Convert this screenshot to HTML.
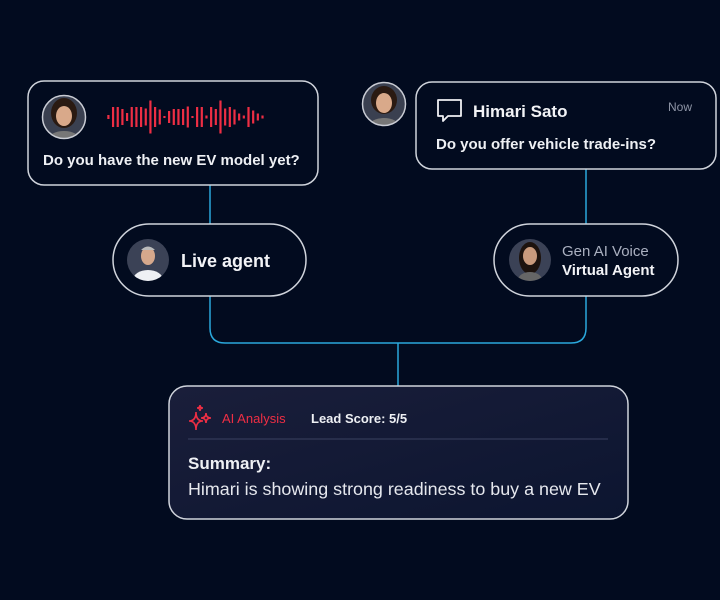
<!DOCTYPE html>
<html><head><meta charset="utf-8"><style>
html,body{margin:0;padding:0;background:#020b1f;}
body{width:720px;height:600px;overflow:hidden;position:relative;font-family:"Liberation Sans",sans-serif;}
svg{position:absolute;left:0;top:0;}
</style></head><body>
<svg width="720" height="600" viewBox="0 0 720 600" xmlns="http://www.w3.org/2000/svg">
<defs>
<linearGradient id="g3" x1="0" y1="0" x2="1" y2="1">
<stop offset="0" stop-color="#1a1e3a"/><stop offset="1" stop-color="#0c1530"/></linearGradient>
<clipPath id="c1"><circle cx="64" cy="117" r="21"/></clipPath>
<clipPath id="c2"><circle cx="148" cy="260" r="21"/></clipPath>
<clipPath id="c3"><circle cx="384" cy="104" r="21"/></clipPath>
<clipPath id="c4"><circle cx="530" cy="260" r="21"/></clipPath>
</defs>
<rect width="720" height="600" fill="#020b1f"/>
<g stroke="#2aa8dc" stroke-width="1.5" fill="none">
<line x1="210" y1="185" x2="210" y2="224"/>
<line x1="586" y1="169" x2="586" y2="224"/>
<path d="M210 296 V328 Q210 343 225 343 H571 Q586 343 586 328 V296"/>
<line x1="398" y1="343" x2="398" y2="386"/>
</g>
<rect x="28" y="81" width="290" height="104" rx="16" fill="#020b1f" stroke="#d0d4dc" stroke-width="1.5"/>
<g clip-path="url(#c1)"><rect x="40" y="94" width="48" height="48" fill="#3a4050"/>
<ellipse cx="64" cy="113" rx="13" ry="15" fill="#2a1a12"/><ellipse cx="64" cy="116" rx="8" ry="10" fill="#d9a98a"/><ellipse cx="64" cy="140" rx="16" ry="9" fill="#777"/></g>
<circle cx="64" cy="117" r="21.5" fill="none" stroke="#c9ccd4" stroke-width="1.5"/>
<g fill="#ee2e44" id="wave"></g>
<text x="43" y="165" font-size="15" font-weight="bold" fill="#eef0f4">Do you have the new EV model yet?</text>
<rect x="113" y="224" width="193" height="72" rx="36" fill="#020b1f" stroke="#d0d4dc" stroke-width="1.5"/>
<g clip-path="url(#c2)"><rect x="126" y="238" width="44" height="44" fill="#3b4256"/>
<ellipse cx="148" cy="256" rx="7" ry="9" fill="#d6a88c"/><path d="M141 250 Q148 243 155 250" fill="#bbb"/><ellipse cx="148" cy="280" rx="15" ry="10" fill="#eef0f4"/></g>
<text x="181" y="267" font-size="18" font-weight="bold" fill="#f2f3f6">Live agent</text>
<g clip-path="url(#c3)"><rect x="362" y="82" width="44" height="44" fill="#3a4050"/>
<ellipse cx="384" cy="100" rx="13" ry="14" fill="#2a1a12"/><ellipse cx="384" cy="103" rx="8" ry="10" fill="#d9a98a"/><ellipse cx="384" cy="126" rx="15" ry="8" fill="#777"/></g>
<circle cx="384" cy="104" r="21.5" fill="none" stroke="#c9ccd4" stroke-width="1.5"/>
<rect x="416" y="82" width="300" height="87" rx="16" fill="#020b1f" stroke="#d0d4dc" stroke-width="1.5"/>
<path d="M438 100 H461 V116 H448 L443 121 V116 H438 Z" fill="none" stroke="#f0f0f4" stroke-width="1.8" stroke-linejoin="round"/>
<text x="473" y="117" font-size="17" font-weight="bold" fill="#f2f3f6">Himari Sato</text>
<text x="668" y="111" font-size="12" fill="#8e95a6">Now</text>
<text x="436" y="149" font-size="15" font-weight="bold" fill="#eef0f4">Do you offer vehicle trade-ins?</text>
<rect x="494" y="224" width="184" height="72" rx="36" fill="#020b1f" stroke="#d0d4dc" stroke-width="1.5"/>
<g clip-path="url(#c4)"><rect x="508" y="238" width="44" height="44" fill="#3b4256"/>
<ellipse cx="530" cy="258" rx="11" ry="16" fill="#1d130e"/><ellipse cx="530" cy="256" rx="7" ry="9" fill="#c99a7c"/><ellipse cx="530" cy="280" rx="12" ry="8" fill="#666"/></g>
<text x="562" y="256" font-size="15" fill="#aab0c0">Gen AI Voice</text>
<text x="562" y="275" font-size="15" font-weight="bold" fill="#f2f3f6">Virtual Agent</text>
<rect x="169" y="386" width="459" height="133" rx="18" fill="url(#g3)" stroke="#d0d4dc" stroke-width="1.5"/>
<g fill="none" stroke="#ee2e44" stroke-width="1.6">
<path d="M196 412 q0 9 -7 9 q7 0 7 9 q0 -9 7 -9 q-7 0 -7 -9z"/>
<path d="M206 413 q0 5 -5 5 q5 0 5 5 q0 -5 5 -5 q-5 0 -5 -5z"/>
<path d="M200 405 q0 3 -3 3 q3 0 3 3 q0 -3 3 -3 q-3 0 -3 -3z"/>
</g>
<text x="222" y="423" font-size="13" fill="#ee2e44">AI Analysis</text>
<text x="311" y="423" font-size="13" font-weight="bold" fill="#eef0f4">Lead Score: 5/5</text>
<line x1="188" y1="439" x2="608" y2="439" stroke="#3a4160" stroke-width="1"/>
<text x="188" y="469" font-size="17" font-weight="bold" fill="#eef0f4">Summary:</text>
<text x="188" y="495" font-size="17.9" fill="#e6e8ee">Himari is showing strong readiness to buy a new EV</text>
</svg>
<script>
var h=[4,20,20,16,8,20,20,20,17,33,20,15,2,12,16,16,16,21,2,20,20,3,20,16,33,17,20,15,7,3,20,13,7,3];
var g=document.getElementById('wave'),s='';
for(var i=0;i<h.length;i++){var x=107.3+i*4.67;s+='<rect x="'+x.toFixed(2)+'" y="'+(117-h[i]/2).toFixed(1)+'" width="2.2" height="'+Math.max(h[i],2)+'"/>';}
g.innerHTML=s;
</script>
</body></html>
